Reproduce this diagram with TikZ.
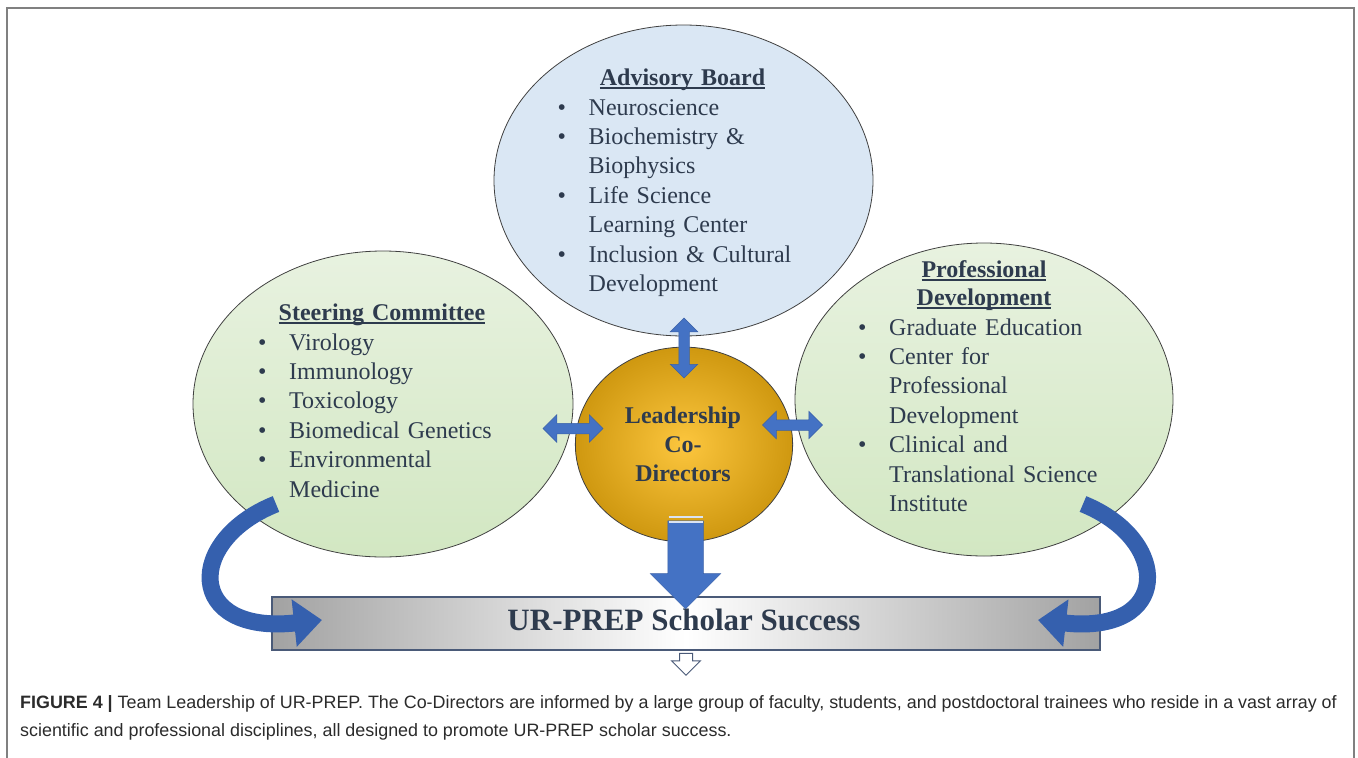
\documentclass[tikz,border=0pt]{standalone}
\usepackage{fontspec}
\setmainfont{Liberation Serif}
\newfontfamily\capfont{Liberation Sans}
\usetikzlibrary{shapes.geometric,shapes.arrows,arrows.meta}

\definecolor{ink}{HTML}{2E3B4E}
\definecolor{capink}{HTML}{2B2B2B}
\definecolor{framegray}{HTML}{808080}
\definecolor{advblue}{HTML}{DAE7F4}
\definecolor{greentop}{HTML}{E8F2E0}
\definecolor{greenmid}{HTML}{C9E2B6}
\definecolor{greenbot}{HTML}{D2E7C2}
\definecolor{goldin}{HTML}{FCC63E}
\definecolor{goldout}{HTML}{CF9810}
\definecolor{arrowblue}{HTML}{4472C4}
\definecolor{curveblue}{HTML}{3560AE}
\definecolor{barline}{HTML}{4A5A78}
\definecolor{bargray}{HTML}{A2A2A2}

\newsavebox{\headbox}
\newcommand{\uln}[1]{\leavevmode\sbox{\headbox}{#1}\rlap{\rule[-3.5pt]{\wd\headbox}{1.6pt}}\usebox{\headbox}}
\newcommand{\itm}[1]{\makebox[31pt][l]{\textbullet}#1}
\newcommand{\cnt}[1]{\hspace*{31pt}#1}
\newcommand{\grouplist}[3]{%
 \node[listtext] ({#1}) at ({#2}) {#3};%
}
\newcommand{\grouphead}[3]{%
 \node[headtext] ({#1}) at ({#2}) {#3};%
}

\begin{document}
\begin{tikzpicture}[x=1pt,y=-1pt,
  every node/.style={inner sep=0pt},
  group/.style={ellipse,draw=black!75,line width=0.8pt},
  greengroup/.style={group,top color=greentop,middle color=greenmid,bottom color=greenbot},
  listtext/.style={anchor=base west,text width=300pt,align=left,text=ink,
    font=\fontsize{24}{29.4}\selectfont},
  headtext/.style={anchor=base,text width=260pt,align=center,text=ink,
    font=\bfseries\fontsize{24}{28.5}\selectfont},
  blockarrow/.style={fill=arrowblue,draw=arrowblue!85!black,line width=0.5pt},
  dblarrow/.style={double arrow,blockarrow,inner ysep=5pt,
    minimum height=60pt,double arrow head extend=8.5pt},
  curvearrow/.style={draw=curveblue,line width=17pt,-{Triangle[width=46pt,length=28pt]}},
  captext/.style={anchor=base west,text=capink,font=\capfont\fontsize{17.9}{20}\selectfont}]
 \useasboundingbox (0,0) rectangle (1358,758);
 \draw[framegray,line width=1.5pt] (7,758) -- (7,8) -- (1354,8) -- (1354,758);

 \node[greengroup,minimum width=380pt,minimum height=306pt] (steer) at (383,404) {};
 \node[greengroup,minimum width=378pt,minimum height=313pt] (prof) at (984,399.5) {};
 \node[group,fill=advblue,minimum width=379pt,minimum height=311pt] (adv) at (683.5,180.5) {};
 \node[circle,draw=black!75,line width=0.8pt,inner color=goldin,outer color=goldout,
   minimum size=205pt,xscale=1.06,yscale=0.95] (lead) at (684,444.5) {};

 \grouphead{advhead}{682.5,85}{\uln{Advisory Board}}
 \grouplist{advlist}{557.5,115}{\itm{Neuroscience}\\ \itm{Biochemistry \&}\\ \cnt{Biophysics}\\
   \itm{Life Science}\\ \cnt{Learning Center}\\ \itm{Inclusion \& Cultural}\\ \cnt{Development}}
 \grouphead{steerhead}{382,320}{\uln{Steering Committee}}
 \grouplist{steerlist}{258,350}{\itm{Virology}\\ \itm{Immunology}\\ \itm{Toxicology}\\
   \itm{Biomedical Genetics}\\ \itm{Environmental}\\ \cnt{Medicine}}
 \grouphead{profhead}{984,277}{\uln{Professional}\\ \uln{Development}}
 \grouplist{proflist}{858,335}{\itm{Graduate Education}\\ \itm{Center for}\\ \cnt{Professional}\\
   \cnt{Development}\\ \itm{Clinical and}\\ \cnt{Translational Science}\\ \cnt{Institute}}
 \node[headtext,text width=160pt] (leadtext) at (683,423) {Leadership\\[0.8pt] Co-\\[0.8pt] Directors};

 \node[draw=barline,line width=1.5pt,left color=bargray,right color=bargray,middle color=white,
   minimum width=828pt,minimum height=53pt] (bar) at (686,623.5) {};
 \node[anchor=base,text=ink,font=\bfseries\fontsize{31}{36}\selectfont] (success) at (684,630)
   {UR-PREP Scholar Success};

 \node[dblarrow,rotate=90] (arrup) at (684,348) {};
 \node[dblarrow] (arrleft) at (573,428.5) {};
 \node[dblarrow] (arrright) at (792.5,425) {};
 \node[single arrow,blockarrow,rotate=-90,inner ysep=17.5pt,
   minimum height=88pt,single arrow head extend=17.5pt] (arrdown) at (685.5,556) {};
 \draw[white!80!arrowblue,line width=1.2pt] (668.5,517) -- (702.5,517) (668.5,522) -- (702.5,522);
 \node[single arrow,fill=white,draw=barline,line width=1pt,rotate=-90,inner ysep=6pt,
   minimum height=22pt,single arrow head extend=8pt] (arrout) at (686,661) {};

 \coordinate (steertail) at (276,504);
 \coordinate (steertip) at (322,620);
 \coordinate (proftail) at (1083,504);
 \coordinate (proftip) at (1038,620);
 \draw[curvearrow] (steertail) .. controls (185,540) and (185,635) .. (steertip);
 \draw[curvearrow] (proftail) .. controls (1172,540) and (1172,635) .. (proftip);

 \node[captext] (cap1) at (20,708.5) {\textbf{FIGURE 4 |} Team Leadership of UR-PREP. The Co-Directors are informed by a large group of faculty, students, and postdoctoral trainees who reside in a vast array of};
 \node[captext] (cap2) at (20,736.5) {scientific and professional disciplines, all designed to promote UR-PREP scholar success.};
\end{tikzpicture}
\end{document}
